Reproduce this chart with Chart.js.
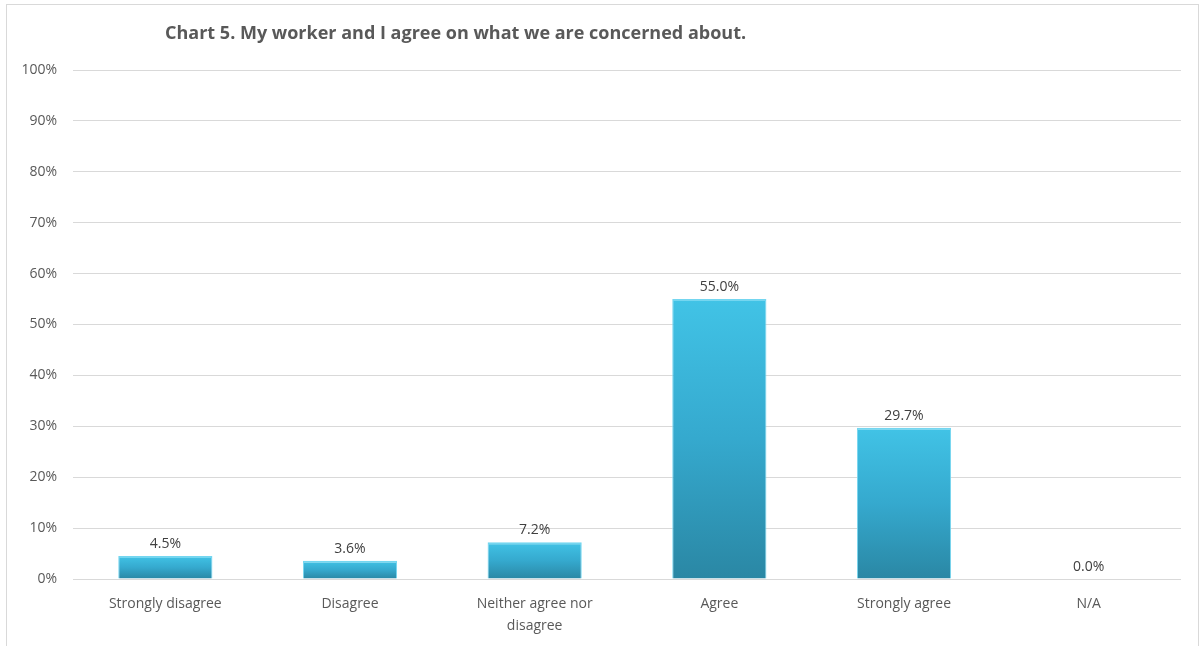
<!DOCTYPE html>
<html>
<head>
<meta charset="utf-8">
<script src="https://cdn.jsdelivr.net/npm/chart.js@4"></script>
<style>
  html, body { margin: 0; padding: 0; background: #fff; }
  #wrap { position: relative; width: 1202px; height: 646px; overflow: hidden; }
  #frame { position: absolute; left: 6px; top: 4px; width: 1193px; height: 700px; border: 1px solid #d9d9d9; box-sizing: border-box; }
  canvas { position: absolute; left: 0; top: 0; }
</style>
</head>
<body>
<div id="wrap">
  <div id="frame"></div>
  <canvas id="c" width="1202" height="646"></canvas>
</div>
<script>
const title = "Chart 5. My worker and I agree on what we are concerned about.";
const categories = ["Strongly disagree", "Disagree", ["Neither agree nor", "disagree"], "Agree", "Strongly agree", "N/A"];
const percents = [4.5, 3.6, 7.2, 55.0, 29.7, 0.0];
const yMax = 100;
const yStep = 10;

const FONT = "'Open Sans', sans-serif";

// each bar gets its own gradient: bright cyan top, darker teal base
function barFill(ctx) {
    const chart = ctx.chart;
    const y = chart.scales && chart.scales.y;
    if (!y || !chart.chartArea) return "#36b2d6";
    const v = percents[ctx.dataIndex] || 0;
    const top = y.getPixelForValue(v);
    const bottom = y.getPixelForValue(0);
    if (bottom - top < 1) return "#36b2d6";
    const g = chart.ctx.createLinearGradient(0, top, 0, bottom);
    g.addColorStop(0, "#41c3e6");
    g.addColorStop(0.5, "#35a9ce");
    g.addColorStop(1, "#2a87a4");
    return g;
}

const titlePlugin = {
    id: "leftTitle",
    afterDraw(chart) {
        const c = chart.ctx;
        c.save();
        c.font = "bold 18px " + FONT;
        c.fillStyle = "#595959";
        c.textAlign = "left";
        c.textBaseline = "middle";
        c.fillText(title, 165, 34);
        c.restore();
    }
};

const valueLabels = {
    id: "valueLabels",
    afterDatasetsDraw(chart) {
        const c = chart.ctx;
        const meta = chart.getDatasetMeta(0);
        c.save();
        c.font = "14px " + FONT;
        c.fillStyle = "#404040";
        c.textAlign = "center";
        c.textBaseline = "bottom";
        meta.data.forEach((bar, i) => {
            c.fillText(percents[i].toFixed(1) + "%", bar.x, bar.y - 5);
        });
        c.restore();
    }
};

new Chart(document.getElementById("c"), {
    type: "bar",
    data: {
        labels: categories,
        datasets: [{
            data: percents,
            backgroundColor: barFill,
            borderColor: "#74d6f0",
            borderWidth: { top: 2, left: 1, right: 1, bottom: 0 },
            categoryPercentage: 1.0,
            barPercentage: 0.51
        }]
    },
    options: {
        responsive: false,
        animation: false,
        layout: { padding: { top: 70, right: 21, left: 0, bottom: 0 } },
        plugins: {
            legend: { display: false },
            tooltip: { enabled: false },
            title: { display: false }
        },
        scales: {
            x: {
                grid: { display: false },
                border: { display: false },
                ticks: {
                    color: "#595959",
                    font: { family: FONT, size: 14, lineHeight: 1.55 },
                    padding: 6,
                    maxRotation: 0,
                    autoSkip: false
                },
                afterFit(scale) { scale.height = 67; }
            },
            y: {
                min: 0,
                max: yMax,
                grid: { color: "#d9d9d9", lineWidth: 1, drawTicks: false },
                border: { display: false },
                ticks: {
                    stepSize: yStep,
                    color: "#595959",
                    font: { family: FONT, size: 14 },
                    padding: 16,
                    callback: v => v + "%"
                },
                afterFit(scale) { scale.width = 73; }
            }
        }
    },
    plugins: [titlePlugin, valueLabels]
});
</script>
</body>
</html>
